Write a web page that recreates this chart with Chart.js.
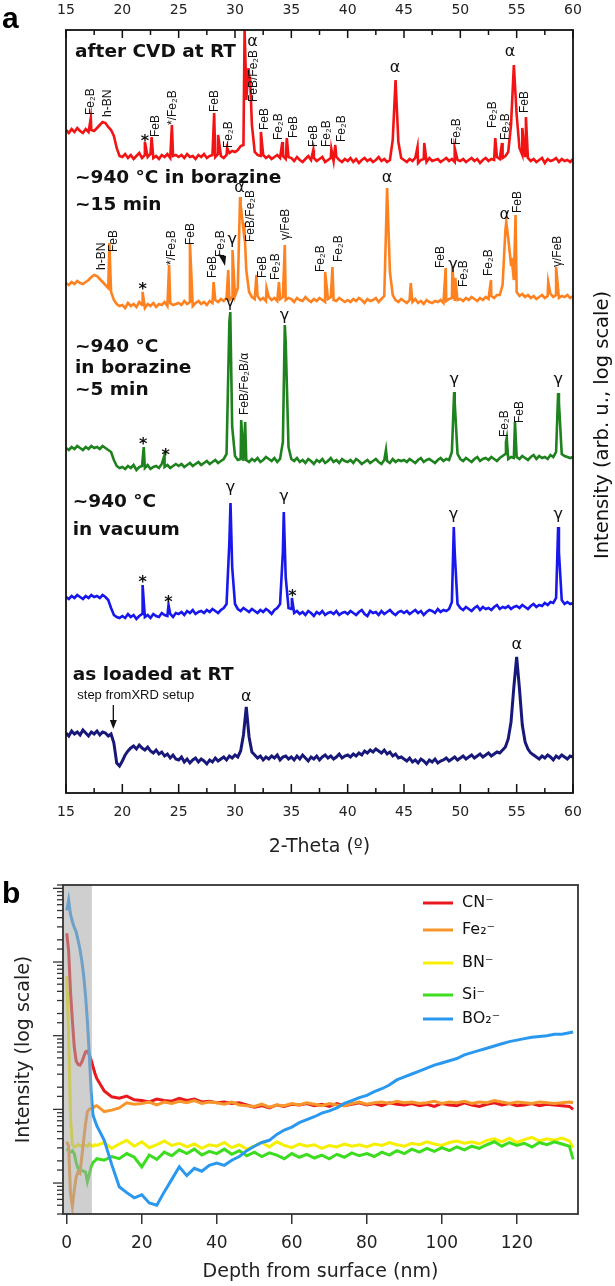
<!DOCTYPE html>
<html>
<head>
<meta charset="utf-8">
<script src="https://cdn.jsdelivr.net/npm/chart.js@4.4.1/dist/chart.umd.min.js"></script>
<style>
  html, body { margin: 0; padding: 0; background: #fff; }
  #wrap { position: relative; width: 615px; height: 1286px; overflow: hidden; }
  #xrdBox { position: absolute; left: 0; top: 0; width: 615px; height: 865px; }
  #tofBox { position: absolute; left: 0; top: 865px; width: 615px; height: 421px; }
  .panel { position: absolute; font: bold 30px "Liberation Sans", Arial, sans-serif; line-height: 1; color: #000; }
</style>
</head>
<body>
<div id="wrap">
  <div id="xrdBox"><canvas id="xrdChart" width="615" height="865"></canvas></div>
  <div id="tofBox"><canvas id="tofChart" width="615" height="421"></canvas></div>
  <div class="panel" style="left:2px; top:3px;">a</div>
  <div class="panel" style="left:2px; top:878px;">b</div>
</div>
<script>
// ================= panel a : XRD scans (stacked, arb. units) =================
// scan sampled every 0.25 deg from 15 to 60 deg, values above each trace baseline
const thetaStart = 15;
const thetaStep = 0.25;

const scanCvdRT = [
  30,27,31,28,32,29,27,31,28,30,29,32,35,38,37,33,30,24,12,4,
  3,6,2,5,1,4,7,2,5,3,6,2,4,1,5,3,6,2,4,5,
  3,5,2,6,3,4,1,5,3,6,2,4,5,3,6,4,2,5,7,9,
  8,10,14,15,60,85,35,8,5,4,5,2,4,1,3,5,2,4,1,3,
  2,-1,3,0,-2,1,4,0,2,-1,1,3,-2,0,2,-1,3,0,-2,1,
  -1,2,-2,1,-3,0,2,-1,1,-2,0,3,-1,1,-2,0,20,80,18,2,
  0,-2,1,-1,2,-3,0,1,-2,2,-1,0,1,-2,0,2,-1,1,-2,0,
  -1,1,-2,0,2,-1,1,-3,0,2,-1,1,0,3,1,2,4,8,35,95,
  45,12,5,4,2,-1,1,-2,0,2,-3,1,-1,0,2,-2,1,-1,0,-2,
  1
];
const peaksCvdRT = [[17.2,42],[22.0,18],[22.6,23],[24.4,35],[28.15,47],[28.5,25],[29.3,12],
  [30.85,130],[30.95,90],[31.2,92],[31.35,80],[32.3,28],[34.2,18],[34.6,22],[36.95,10],[38.55,11],
  [38.9,15],[46.2,13],[46.8,17],[49.5,12],[53.1,22],[53.7,17],[55.5,32],[55.82,43]];

const scanBor15 = [
  17,15,18,16,19,17,16,18,20,23,25,24,21,18,15,12,8,0,-4,-6,
  -5,-8,-3,-6,-4,-7,-2,-5,-8,-4,-6,-3,-7,-4,-5,-2,-6,-3,-5,-4,
  -3,-5,-1,-4,-2,-6,-3,-1,-4,-2,-5,-1,-3,0,-2,1,-1,2,0,3,
  4,12,95,70,30,8,3,1,4,0,2,-1,3,0,2,-1,1,3,0,2,
  1,-2,2,0,-1,3,0,-2,1,-1,2,0,-2,1,3,0,-1,2,0,-2,
  0,-2,1,-1,2,0,-3,1,-1,0,2,-2,1,4,112,28,5,0,-2,1,
  -1,-3,0,-2,1,-3,-1,-4,0,-2,-3,-1,-2,0,-3,-1,1,2,-1,0,
  1,-1,2,0,3,1,-1,2,0,3,1,4,2,5,5,15,70,62,35,20,
  8,4,6,3,5,2,4,1,3,5,2,4,6,3,5,2,4,3,5,2,
  4
];
const peaksBor15 = [[18.85,57],[21.8,8],[24.15,35],[26.0,57],[28.1,18],[29.4,30],[29.78,50],
  [30.45,103],[30.82,77],[31.9,25],[32.8,12],[33.9,18],[34.42,55],[38.0,28],[38.65,33],[45.6,17],
  [48.7,32],[49.3,33],[49.55,22],[52.72,20],[54.08,78],[54.55,42],[54.9,85],[57.8,18],[58.5,33]];

const scanBor5 = [
  14,12,15,13,16,14,12,15,13,16,14,15,13,16,14,12,10,2,-4,-6,
  -5,-7,-4,-6,-3,-8,-5,-4,-6,-3,-7,-5,-4,-6,-2,-5,-3,-6,-4,-2,
  -4,-2,-5,-3,-1,-4,-2,0,-3,-1,1,-2,0,2,-1,1,3,8,140,35,
  6,2,3,1,2,0,3,1,4,0,2,5,3,1,4,0,3,20,120,15,
  3,1,4,0,2,-1,3,1,-2,2,0,3,-1,1,4,0,2,-1,3,1,
  0,2,-1,3,1,-2,0,2,-1,1,3,0,-2,2,1,-1,3,0,2,1,
  2,0,3,1,-1,2,4,0,2,3,1,-1,2,4,1,3,2,10,60,8,
  3,1,4,2,0,3,5,1,3,4,2,5,3,1,4,6,8,3,5,4,
  5,3,6,4,2,5,7,3,6,4,5,3,7,5,10,60,8,6,5,4,
  5
];
const peaksBor5 = [[21.9,15],[23.72,6],[29.58,150],[30.55,42],[30.9,40],[34.42,137],[43.4,12],
  [49.45,70],[54.05,20],[54.12,24],[54.85,40],[58.68,69]];

const scanVacuum = [
  15,13,16,14,17,15,13,16,14,17,15,16,14,17,15,12,4,-3,-5,-6,
  -4,-6,-2,-5,-3,-7,-4,-2,-5,-3,-6,-2,-4,-5,-1,-3,-4,-2,-5,-1,
  -2,0,-3,1,-1,2,-2,0,1,-1,2,0,3,1,-1,2,4,8,70,45,
  8,3,1,4,2,0,3,1,-1,2,0,3,1,-2,2,4,8,60,35,4,
  3,-1,1,-2,0,-3,1,-1,-4,0,-2,1,-3,-1,0,-2,1,-3,-1,0,
  -2,1,-1,-3,0,2,-2,-4,1,-1,0,-3,1,-2,0,2,-1,-3,0,1,
  -1,1,-2,0,2,-1,1,-3,0,2,1,-1,3,0,2,1,3,10,60,8,
  4,2,5,3,1,4,6,2,5,3,4,2,5,7,3,5,4,6,3,5,
  6,4,7,5,3,6,8,5,7,6,9,7,10,9,14,60,12,8,10,8,
  9
];
const peaksVacuum = [[21.8,27],[24.1,7],[29.6,109],[34.33,100],[35.05,14],[49.42,85],[58.68,85]];

const scanLoaded = [
  24,21,26,23,25,22,27,24,21,25,23,26,22,25,24,21,23,14,-6,-9,
  -4,2,6,9,11,8,12,9,7,10,6,4,7,3,5,1,3,-1,2,-2,
  -3,0,-5,-2,-6,-3,-1,-5,-2,-4,-7,-3,-5,-1,-4,-2,0,-3,1,-1,
  2,0,6,22,50,20,5,2,-1,1,-3,0,-2,1,-1,2,-3,0,1,-2,
  0,-3,1,-2,2,-1,-4,0,-2,1,-3,0,2,-1,1,-2,0,3,-1,1,
  2,0,3,1,4,2,6,4,7,5,8,6,4,7,3,5,1,3,-1,0,
  -2,-4,-1,-5,-3,-6,-2,-4,-7,-3,-5,-2,-6,-4,-3,-1,-4,-2,0,-3,
  -1,1,-2,0,2,-1,1,3,0,2,4,1,3,5,4,7,10,18,35,70,
  100,68,32,15,8,4,2,0,-2,1,-1,2,0,-3,1,-1,2,0,-2,1,
  0
];
const peaksLoaded = [];

// vertical offsets of the stacked traces
const traceOffsets = [633, 493, 331, 181, 36];
const traceColors = ['#f21414', '#ff8220', '#1e821e', '#1717ee', '#18187a'];

// peak labels: [2-theta, height above trace baseline, text, vertical?]
const labelsCvdRT = [[17.2,45,'Fe₂B',1],[18.7,43,'h-BN',1],[22.0,23,'*',0],[23.0,23,'FeB',1],
  [24.5,35,'*/Fe₂B',1],[28.2,48,'FeB',1],[29.4,12,'Fe₂B',1],[31.55,118,'α',0],[31.7,58,'FeB/Fe₂B',1],
  [32.65,30,'FeB',1],[33.9,20,'Fe₂B',1],[35.2,22,'FeB',1],[36.95,13,'FeB',1],[38.1,13,'Fe₂B',1],
  [39.5,18,'Fe₂B',1],[44.2,92,'α',0],[49.7,15,'Fe₂B',1],[52.9,32,'Fe₂B',1],[54.05,20,'Fe₂B',1],
  [54.4,108,'α',0],[55.7,47,'FeB',1]];
const labelsBor15 = [[18.2,30,'h-BN',1],[19.2,48,'FeB',1],[21.8,15,'*',0],[24.4,35,'*/Fe₂B',1],
  [26.05,55,'FeB',1],[28.0,22,'FeB',1],[28.7,43,'Fe₂B',1],[29.75,60,'γ',0],[30.4,112,'α',0],
  [31.4,58,'FeB/Fe₂B',1],[32.5,22,'FeB',1],[33.6,20,'Fe₂B',1],[34.5,60,'γ/FeB',1],[37.6,28,'Fe₂B',1],
  [39.2,38,'Fe₂B',1],[43.5,122,'α',0],[48.3,32,'FeB',1],[49.35,35,'γ',0],[50.3,13,'Fe₂B',1],
  [52.55,24,'Fe₂B',1],[53.95,85,'α',0],[55.05,87,'FeB',1],[58.6,33,'γ/FeB',1]];
const labelsBor5 = [[21.85,22,'*',0],[23.85,11,'*',0],[29.55,159,'γ',0],[30.9,47,'FeB/Fe₂B/α',1],
  [34.4,146,'γ',0],[49.45,82,'γ',0],[53.95,25,'Fe₂B',1],[55.3,39,'FeB',1],[58.7,82,'γ',0]];
const labelsVacuum = [[21.8,34,'*',0],[24.1,14,'*',0],[29.6,124,'γ',0],[34.35,115,'γ',0],
  [35.1,20,'*',0],[49.4,97,'γ',0],[58.7,97,'γ',0]];
const labelsLoaded = [[31.0,60,'α',0],[55.0,112,'α',0]];

// small black pointer on the 15 min scan: [2-theta, height above baseline]
const pointerBor15 = [28.85, 40];

// sample titles: [2-theta, intensity position, text]
const sampleTitles = [[15.8,741,'after CVD at RT'],[15.8,615,'~940 °C in borazine'],[15.8,588,'~15 min'],
  [15.8,446,'~940 °C'],[15.8,425,'in borazine'],[15.8,403,'~5 min'],[15.6,291,'~940 °C'],
  [15.6,263,'in vacuum'],[15.6,118,'as loaded at RT']];

// ================= panel b : depth profile (log intensity) =================
const depthNm = [0,0.5,1,1.5,2,2.5,3,3.5,4,4.5,5,5.5,6,6.5,7,7.5,8,
  10,12,14,16,18,20,22,24,26,28,30,32,34,36,38,40,42,44,46,48,50,52,54,56,58,60,62,64,66,68,70,
  72,74,76,78,80,82,84,86,88,90,92,94,96,98,100,102,104,106,108,110,112,114,116,118,120,122,124,
  126,128,130,132,134,135];
// log10 of the counts
const cnLog = [3.39,3.15,2.6,2.2,1.85,1.66,1.61,1.60,1.64,1.71,1.78,1.79,1.74,1.67,1.58,1.49,1.42,
  1.25,1.17,1.15,1.18,1.13,1.12,1.10,1.14,1.12,1.11,1.15,1.12,1.14,1.10,1.11,1.09,1.10,1.08,1.09,1.06,
  1.03,1.05,1.02,1.06,1.04,1.07,1.06,1.08,1.05,1.07,1.04,1.08,1.05,1.07,1.09,1.06,1.08,1.05,1.09,1.07,
  1.06,1.08,1.05,1.07,1.04,1.08,1.06,1.05,1.09,1.06,1.04,1.07,1.09,1.06,1.08,1.05,1.06,1.08,1.05,1.07,
  1.06,1.05,1.04,1.00];
const fe2Log = [0.56,0.50,-0.15,-0.32,-0.10,0.08,0.15,0.13,0.35,0.58,0.80,0.97,1.00,1.01,1.02,1.04,1.05,
  0.97,0.99,1.02,1.09,1.07,1.08,1.10,1.06,1.10,1.08,1.11,1.09,1.12,1.08,1.10,1.09,1.07,1.10,1.06,1.05,
  1.04,1.07,1.03,1.06,1.05,1.08,1.06,1.09,1.07,1.05,1.08,1.06,1.05,1.08,1.10,1.07,1.09,1.10,1.08,1.11,
  1.09,1.10,1.08,1.09,1.11,1.08,1.10,1.09,1.11,1.08,1.10,1.09,1.12,1.10,1.08,1.10,1.09,1.08,1.10,1.09,
  1.08,1.09,1.10,1.09];
const bnLog = [2.81,2.0,0.9,0.52,0.49,0.50,0.52,0.51,0.50,0.52,0.51,0.50,0.53,0.51,0.50,0.52,0.51,
  0.55,0.47,0.53,0.58,0.50,0.56,0.48,0.52,0.57,0.51,0.54,0.49,0.53,0.47,0.52,0.50,0.55,0.48,0.52,0.46,
  0.50,0.55,0.49,0.56,0.51,0.48,0.53,0.50,0.52,0.47,0.51,0.49,0.53,0.50,0.52,0.49,0.53,0.51,0.55,0.52,
  0.50,0.54,0.52,0.56,0.53,0.51,0.55,0.57,0.54,0.56,0.53,0.58,0.60,0.56,0.61,0.55,0.59,0.62,0.57,0.60,
  0.58,0.61,0.57,0.48];
const siLog = [0.47,0.44,0.42,0.44,0.40,0.28,0.20,0.17,0.17,0.16,0.15,0.02,0.12,0.22,0.28,0.30,0.33,
  0.31,0.36,0.33,0.40,0.35,0.22,0.38,0.32,0.42,0.37,0.45,0.40,0.46,0.38,0.43,0.40,0.46,0.39,0.44,0.37,
  0.42,0.36,0.41,0.38,0.33,0.40,0.35,0.39,0.34,0.38,0.33,0.39,0.35,0.41,0.37,0.40,0.36,0.42,0.38,0.44,
  0.40,0.46,0.42,0.47,0.43,0.48,0.44,0.49,0.45,0.50,0.47,0.52,0.56,0.50,0.55,0.51,0.54,0.49,0.55,0.52,
  0.56,0.53,0.50,0.32];
const bo2Log = [3.70,3.84,3.65,3.55,3.47,3.41,3.30,3.18,3.02,2.82,2.55,2.20,1.75,1.25,0.92,0.85,0.78,
  0.58,0.25,-0.05,-0.13,-0.20,-0.16,-0.27,-0.30,-0.12,0.05,0.22,0.10,0.20,0.16,0.24,0.27,0.24,0.31,0.36,
  0.44,0.50,0.55,0.58,0.66,0.72,0.76,0.82,0.86,0.90,0.95,0.98,1.02,1.08,1.12,1.16,1.19,1.24,1.28,1.33,
  1.40,1.44,1.48,1.52,1.56,1.60,1.63,1.66,1.69,1.74,1.77,1.80,1.83,1.86,1.89,1.92,1.94,1.96,1.98,1.99,
  2.00,2.02,2.02,2.04,2.05];

const ionNames = ['CN⁻', 'Fe₂⁻', 'BN⁻', 'Si⁻', 'BO₂⁻'];
const ionColors = ['#e8181c', '#f7962a', '#f7ef00', '#3cdc1e', '#2a98ee'];
const surfaceLayerNm = 6.7;   // shaded region

// ---------------------------------------------------------------
const textColor = '#111';

function scanPoints(grid, peaks, offset) {
  const pts = grid.map((v, i) => ({ x: thetaStart + i * thetaStep, y: offset + v }));
  peaks.forEach(p => pts.push({ x: p[0], y: offset + p[1] }));
  return pts.sort((a, b) => a.x - b.x);
}

const scans = [scanCvdRT, scanBor15, scanBor5, scanVacuum, scanLoaded];
const scanPeaks = [peaksCvdRT, peaksBor15, peaksBor5, peaksVacuum, peaksLoaded];
const scanLabels = [labelsCvdRT, labelsBor15, labelsBor5, labelsVacuum, labelsLoaded];

const xrdDecor = {
  id: 'xrdDecor',
  afterDraw(chart) {
    const { ctx, chartArea: a, scales: { x, y } } = chart;
    ctx.save();
    // frame
    ctx.strokeStyle = '#111';
    ctx.lineWidth = 1.8;
    ctx.strokeRect(a.left, a.top, a.right - a.left, a.bottom - a.top);
    // inward ticks top and bottom (major every 5, minor between)
    ctx.lineWidth = 1.5;
    x.ticks.forEach((t, i) => {
      const px = x.getPixelForValue(t.value);
      ctx.beginPath();
      ctx.moveTo(px, a.bottom); ctx.lineTo(px, a.bottom - 9);
      ctx.moveTo(px, a.top); ctx.lineTo(px, a.top + 8);
      if (i < x.ticks.length - 1) {
        const pm = x.getPixelForValue((t.value + x.ticks[i + 1].value) / 2);
        ctx.moveTo(pm, a.bottom); ctx.lineTo(pm, a.bottom - 5);
        ctx.moveTo(pm, a.top); ctx.lineTo(pm, a.top + 5);
      }
      ctx.stroke();
    });

    // peak labels
    ctx.fillStyle = textColor;
    scanLabels.forEach((list, k) => {
      list.forEach(([th, h, txt, vert]) => {
        const px = x.getPixelForValue(th);
        const py = y.getPixelForValue(traceOffsets[k] + h);
        if (vert) {
          ctx.save();
          ctx.translate(px, py);
          ctx.rotate(-Math.PI / 2);
          ctx.font = '12px "Liberation Sans", Arial, sans-serif';
          ctx.textAlign = 'left';
          ctx.textBaseline = 'middle';
          ctx.fillText(txt, 0, 0);
          ctx.restore();
        } else if (txt === '*') {
          ctx.font = 'bold 16px "DejaVu Sans", sans-serif';
          ctx.textAlign = 'center';
          ctx.textBaseline = 'alphabetic';
          ctx.fillText(txt, px, py + 9);
        } else {
          ctx.font = '16px "DejaVu Sans", sans-serif';
          ctx.textAlign = 'center';
          ctx.textBaseline = 'middle';
          ctx.fillText(txt, px, py);
        }
      });
    });

    // black pointer on the 15 min scan
    const tx = x.getPixelForValue(pointerBor15[0]);
    const ty = y.getPixelForValue(traceOffsets[1] + pointerBor15[1]);
    ctx.beginPath();
    ctx.moveTo(tx - 4, ty - 6);
    ctx.lineTo(tx + 4, ty - 4);
    ctx.lineTo(tx + 3, ty + 6);
    ctx.closePath();
    ctx.fill();

    // sample titles
    ctx.font = 'bold 18.5px "DejaVu Sans", sans-serif';
    ctx.textAlign = 'left';
    ctx.textBaseline = 'middle';
    sampleTitles.forEach(([th, v, txt]) => {
      ctx.fillText(txt, x.getPixelForValue(th), y.getPixelForValue(v));
    });

    // note + arrow marking the setup step
    ctx.font = '13px "Liberation Sans", Arial, sans-serif';
    ctx.fillText('step fromXRD setup', x.getPixelForValue(16.0), y.getPixelForValue(98));
    const ax = x.getPixelForValue(19.2);
    const ay0 = y.getPixelForValue(88);
    const ay1 = y.getPixelForValue(64);
    ctx.strokeStyle = '#111';
    ctx.lineWidth = 1.3;
    ctx.beginPath(); ctx.moveTo(ax, ay0); ctx.lineTo(ax, ay1 - 6); ctx.stroke();
    ctx.beginPath(); ctx.moveTo(ax, ay1); ctx.lineTo(ax - 3.5, ay1 - 9); ctx.lineTo(ax + 3.5, ay1 - 9);
    ctx.closePath(); ctx.fill();

    // right axis title
    ctx.save();
    ctx.translate(603, 425);
    ctx.rotate(-Math.PI / 2);
    ctx.font = '19.5px "DejaVu Sans", sans-serif';
    ctx.textAlign = 'center';
    ctx.textBaseline = 'middle';
    ctx.fillText('Intensity (arb. u., log scale)', 0, 0);
    ctx.restore();
    ctx.restore();
  }
};

const tickFontA = { family: '"DejaVu Sans", sans-serif', size: 14 };

new Chart(document.getElementById('xrdChart'), {
  type: 'line',
  data: {
    datasets: scans.map((grid, i) => ({
      data: scanPoints(grid, scanPeaks[i], traceOffsets[i]),
      borderColor: traceColors[i],
      borderWidth: i === 4 ? 3 : 2.6,
      pointRadius: 0,
      tension: 0
    }))
  },
  options: {
    responsive: false,
    animation: false,
    devicePixelRatio: 1,
    layout: { padding: { left: 66, right: 42, top: 0, bottom: 0 } },
    plugins: { legend: { display: false }, tooltip: { enabled: false } },
    scales: {
      x: {
        type: 'linear', position: 'bottom', min: 15, max: 60,
        ticks: { stepSize: 5, padding: 11, color: '#222', font: tickFontA, maxRotation: 0 },
        grid: { display: false, drawTicks: false },
        border: { display: false },
        title: { display: true, text: '2-Theta (º)', color: '#222',
                 font: { family: '"DejaVu Sans", sans-serif', size: 19 }, padding: { top: 0, bottom: 7 } },
        afterFit(s) { s.height = 72; }
      },
      xTop: {
        type: 'linear', position: 'top', min: 15, max: 60,
        ticks: { stepSize: 5, padding: 11, color: '#222', font: tickFontA, maxRotation: 0 },
        grid: { display: false, drawTicks: false },
        border: { display: false },
        afterFit(s) { s.height = 30; }
      },
      y: { type: 'linear', display: false, min: 0, max: 763 }
    }
  },
  plugins: [xrdDecor]
});

// ================= panel b chart =================
const ionLogs = [cnLog, fe2Log, bnLog, siLog, bo2Log];
const drawOrder = [3, 2, 5, 4, 1];
const legendRows = [18, 45, 78, 110, 134];   // px below plot top

const tofDecor = {
  id: 'tofDecor',
  afterDatasetsDraw(chart) {
    const { ctx, chartArea: a, scales: { x } } = chart;
    ctx.save();
    ctx.fillStyle = 'rgba(168,168,168,0.55)';
    const xr = x.getPixelForValue(surfaceLayerNm);
    ctx.fillRect(a.left, a.top, xr - a.left, a.bottom - a.top);
    ctx.restore();
  },
  afterDraw(chart) {
    const { ctx, chartArea: a, scales: { y } } = chart;
    ctx.save();
    ctx.strokeStyle = '#333';
    ctx.lineWidth = 1.8;
    ctx.strokeRect(a.left, a.top, a.right - a.left, a.bottom - a.top);
    // log ticks on the left, outside
    ctx.lineWidth = 1.3;
    y.ticks.forEach(t => {
      const lg = Math.log10(t.value);
      const major = Math.abs(lg - Math.round(lg)) < 1e-6;
      const py = y.getPixelForValue(t.value);
      if (py < a.top - 0.5 || py > a.bottom + 0.5) return;
      ctx.beginPath();
      ctx.moveTo(a.left, py);
      ctx.lineTo(a.left - (major ? 10 : 6), py);
      ctx.stroke();
    });
    // legend
    ctx.font = '16px "DejaVu Sans", sans-serif';
    ctx.textAlign = 'left';
    ctx.textBaseline = 'middle';
    ionNames.forEach((name, i) => {
      const ly = a.top + legendRows[i];
      ctx.strokeStyle = ionColors[i];
      ctx.lineWidth = 3;
      ctx.beginPath();
      ctx.moveTo(a.left + 360, ly);
      ctx.lineTo(a.left + 390, ly);
      ctx.stroke();
      ctx.fillStyle = '#111';
      ctx.fillText(name, a.left + 399, ly);
    });
    ctx.restore();
  }
};

const fontB = '"DejaVu Sans", sans-serif';

new Chart(document.getElementById('tofChart'), {
  type: 'line',
  data: {
    datasets: ionLogs.map((arr, i) => ({
      label: ionNames[i],
      data: depthNm.map((d, j) => ({ x: d, y: Math.pow(10, arr[j]) })),
      borderColor: ionColors[i],
      borderWidth: 3,
      pointRadius: 0,
      tension: 0,
      order: drawOrder[i]
    }))
  },
  options: {
    responsive: false,
    animation: false,
    devicePixelRatio: 1,
    layout: { padding: { left: 0, right: 37, top: 20, bottom: 0 } },
    plugins: { legend: { display: false }, tooltip: { enabled: false } },
    scales: {
      x: {
        type: 'linear', min: -1, max: 136.3,
        ticks: { stepSize: 20, includeBounds: false, padding: 9, color: '#222',
                 font: { family: fontB, size: 17 }, maxRotation: 0 },
        grid: { drawOnChartArea: false, drawTicks: true, tickLength: 10, color: '#333', lineWidth: 1.5 },
        border: { display: false },
        title: { display: true, text: 'Depth from surface (nm)', color: '#222',
                 font: { family: fontB, size: 19 }, padding: { top: 0, bottom: 3 } },
        afterFit(s) { s.height = 72; }
      },
      y: {
        type: 'logarithmic', min: 0.38, max: 11100,
        ticks: { display: false },
        grid: { display: false },
        border: { display: false },
        title: { display: true, text: 'Intensity (log scale)', color: '#222',
                 font: { family: fontB, size: 19 }, padding: { top: 13, bottom: 0 } },
        afterFit(s) { s.width = 63; }
      }
    }
  },
  plugins: [tofDecor]
});
</script>
</body>
</html>
